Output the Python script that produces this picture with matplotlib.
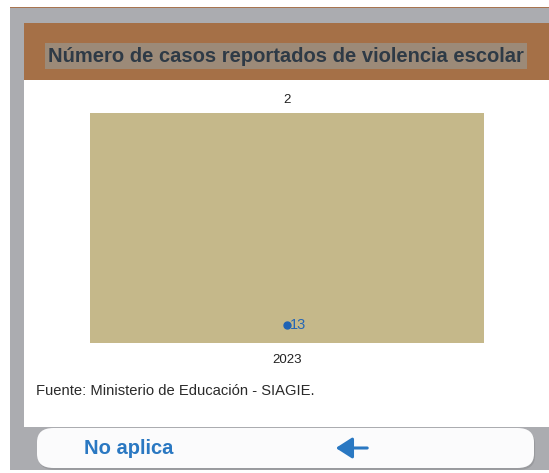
import matplotlib.pyplot as plt
from matplotlib.patches import Rectangle, FancyBboxPatch, FancyArrowPatch

# ----- DATA -----
years = ["2023"]
casos = [2]
puntos = [13]

TITLE = "Número de casos reportados de violencia escolar"
SOURCE = "Fuente: Ministerio de Educación - SIAGIE."
BUTTON = "No aplica"

W, H = 549, 473
plt.rcParams["font.family"] = ["Liberation Sans", "DejaVu Sans"]

fig = plt.figure(figsize=(W / 100, H / 100), dpi=100)
fig.patch.set_facecolor("white")


def px(x, y, w, h):
    # pixel box (from top-left) -> figure fraction
    return (x / W, 1 - (y + h) / H, w / W, h / H)


def rect(x, y, w, h, color, **kw):
    l, b, ww, hh = px(x, y, w, h)
    fig.patches.append(Rectangle((l, b), ww, hh, transform=fig.transFigure,
                                 facecolor=color, edgecolor="none", **kw))


# marco
rect(10, 7, W - 10, 2, "#A87450", zorder=0)
rect(10, 8, W - 10, 462, "#ABACB0", zorder=0)
rect(24, 23, W - 24, 57, "#A57047", zorder=1)
rect(24, 80, W - 24, 347, "white", zorder=1)

# titulo con resaltado
fig.text(286 / W, 1 - 56 / H, TITLE, ha="center", va="center", fontsize=14.5,
         fontweight="bold", color="#2E3A46",
         bbox=dict(facecolor="#9C8A78", edgecolor="none", pad=2.5))

# ----- GRAFICO -----
ax = fig.add_axes(px(90, 113, 394, 230))
ax.set_zorder(5)
ax.bar(years, casos, width=0.8, color="#C5B88A", zorder=2)
ax.set_xlim(-0.4, 0.4)
ax.set_ylim(0, max(casos))
for i, v in enumerate(casos):
    ax.annotate(str(v), (i, v), xytext=(0, 5), textcoords="offset points",
                ha="center", va="bottom", fontsize=9.5, color="#222222",
                annotation_clip=False)
ax.set_facecolor("none")
for s in ax.spines.values():
    s.set_visible(False)
ax.tick_params(axis="x", length=0, labelsize=9.5, pad=8, labelcolor="#222222")
ax.set_yticks([])

ax2 = ax.twinx()
ax2.set_zorder(6)
ax2.plot(years, puntos, "o", color="#1F63B5", markersize=5, zorder=3)
ax2.set_ylim(0, 166)
for i, v in enumerate(puntos):
    ax2.annotate(str(v), (i, v), xytext=(2, 0), textcoords="offset points",
                 ha="left", va="center", fontsize=10.5, color="#2566B5")
ax2.set_yticks([])
for s in ax2.spines.values():
    s.set_visible(False)

# fuente
fig.text(36 / W, 1 - 391 / H, SOURCE, ha="left", va="center", fontsize=10.6,
         color="#2A2A2A")

# boton
l, b, ww, hh = px(37, 428, 497, 40)
fig.patches.append(FancyBboxPatch((l + 0.002, b - 0.004), ww, hh,
                                  boxstyle="round,pad=0,rounding_size=0.03",
                                  transform=fig.transFigure, facecolor="#8E8F93",
                                  edgecolor="none", zorder=1, alpha=0.6))
fig.patches.append(FancyBboxPatch((l, b), ww, hh,
                                  boxstyle="round,pad=0,rounding_size=0.03",
                                  transform=fig.transFigure, facecolor="#FBFBFC",
                                  edgecolor="none", zorder=2))
fig.text(84 / W, 1 - 448 / H, BUTTON, ha="left", va="center", fontsize=14.5,
         fontweight="bold", color="#2A78C2", zorder=3)
fig.patches.append(FancyArrowPatch((370 / W, 1 - 448 / H), (333 / W, 1 - 448 / H),
                                   transform=fig.transFigure,
                                   arrowstyle="-|>,head_length=2.5,head_width=1.6",
                                   mutation_scale=4, linewidth=2.2, color="#2A78C2",
                                   zorder=3))

fig.savefig("out.png", dpi=100)
